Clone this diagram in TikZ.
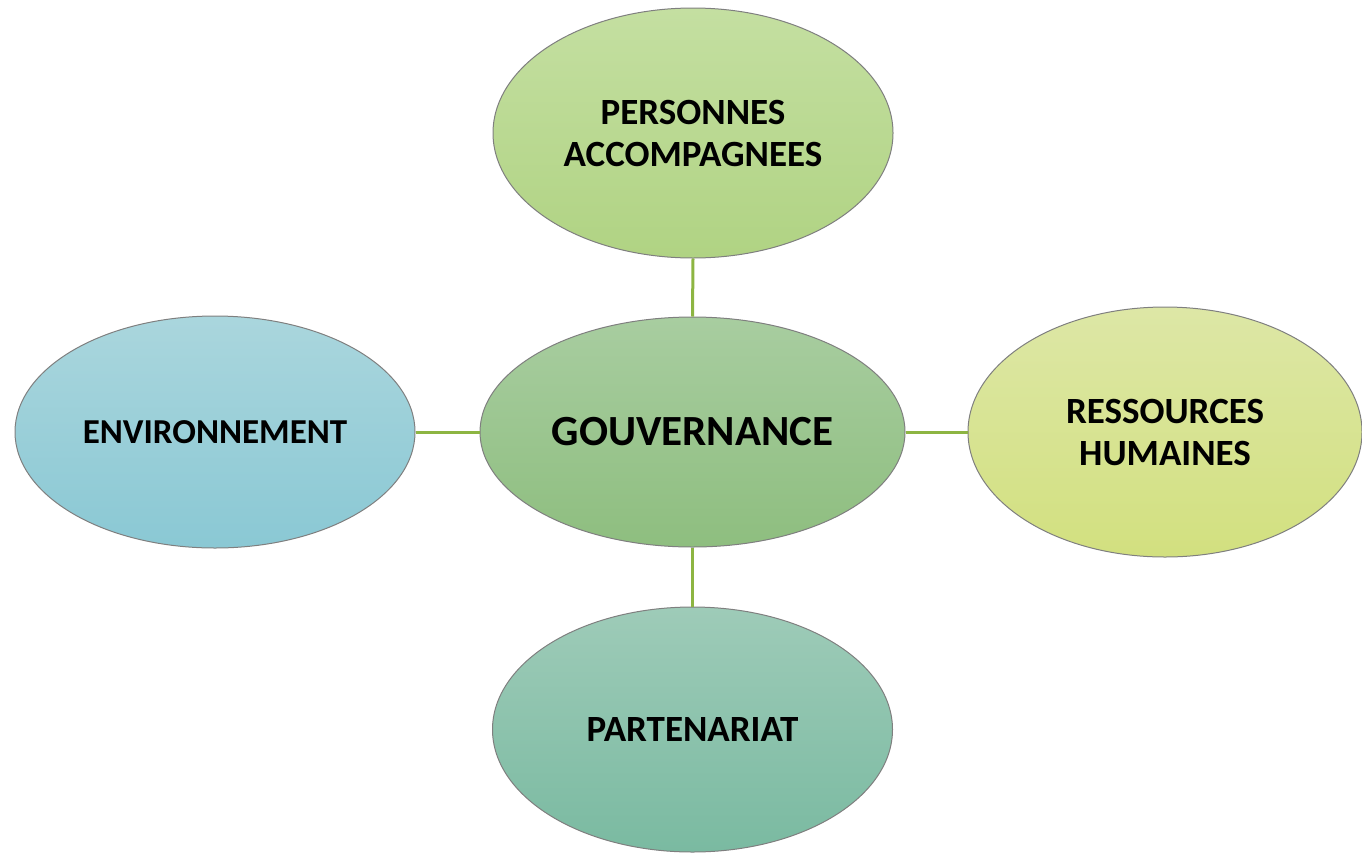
\documentclass[tikz,border=0pt]{standalone}
\usepackage{fontspec}
\setmainfont{Carlito}
\usetikzlibrary{shapes.geometric}
\definecolor{linkgreen}{HTML}{8DB542}
\definecolor{edgegray}{HTML}{7F7F7F}
\tikzset{
  bubble/.style={ellipse, draw=edgegray, line width=1pt, inner sep=0pt, align=center,
    font=\bfseries\fontsize{37}{42}\selectfont, text=black},
  link/.style={draw=linkgreen, line width=3pt}
}
\begin{document}
\begin{tikzpicture}[x=1pt,y=-1pt]
\useasboundingbox (0,0) rectangle (1362,852);
\node[bubble, minimum width=400pt, minimum height=250pt, top color={rgb,255:red,196;green,223;blue,161}, bottom color={rgb,255:red,176;green,211;blue,131}] (pers) at (693,133) {PERSONNES\\ACCOMPAGNEES};
\node[bubble, minimum width=425pt, minimum height=230pt, top color={rgb,255:red,168;green,205;blue,160}, bottom color={rgb,255:red,142;green,190;blue,127}, font=\bfseries\fontsize{43}{50}\selectfont] (gouv) at (692.5,432) {GOUVERNANCE};
\node[bubble, minimum width=400pt, minimum height=232pt, top color={rgb,255:red,170;green,214;blue,221}, bottom color={rgb,255:red,138;green,200;blue,212}, font=\bfseries\fontsize{35}{42}\selectfont] (env) at (215,432) {ENVIRONNEMENT};
\node[bubble, minimum width=394pt, minimum height=250pt, top color={rgb,255:red,221;green,231;blue,166}, bottom color={rgb,255:red,210;green,224;blue,127}] (rh) at (1165,432) {RESSOURCES\\HUMAINES};
\node[bubble, minimum width=400pt, minimum height=245pt, top color={rgb,255:red,158;green,203;blue,184}, bottom color={rgb,255:red,122;green,186;blue,161}] (part) at (692.5,729.5) {PARTENARIAT};
\draw[link] (pers.south) -- (gouv.north);
\draw[link] (env.east) -- (gouv.west);
\draw[link] (gouv.east) -- (rh.west);
\draw[link] (gouv.south) -- (part.north);
\end{tikzpicture}
\end{document}
